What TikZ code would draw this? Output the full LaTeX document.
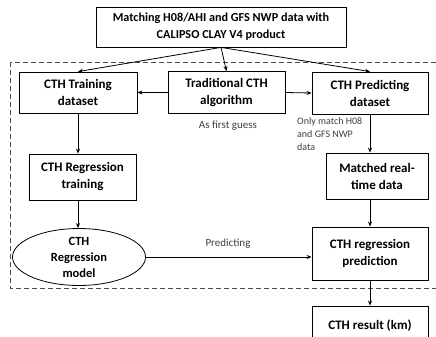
\documentclass[tikz,border=0pt]{standalone}
\usepackage{fontspec}
\setmainfont{Carlito}
\usetikzlibrary{shapes.geometric,arrows.meta}
\begin{document}
\begin{tikzpicture}[x=1pt,y=-1pt,
  box/.style={draw, line width=0.8pt, font=\bfseries\fontsize{13}{17}\selectfont, align=center, inner sep=1pt},
  lab/.style={font=\fontsize{11}{13}\selectfont, text=black!75, inner sep=0pt},
  arr/.style={-{Stealth[length=5pt,width=4pt]}, line width=0.8pt}]
\useasboundingbox (0,0) rectangle (436,337);
\clip (0,0) rectangle (436,337);
\fill[white] (0,0) rectangle (436,337);
% dashed frame
\draw[dashed, dash pattern=on 5pt off 3pt, line width=0.8pt, black!70] (10,62) rectangle (445,288);
% nodes
\node[box, minimum width=250pt, minimum height=40pt, font=\bfseries\fontsize{12.2}{17}\selectfont] (top) at (221,27) {Matching H08/AHI and GFS NWP data with\\CALIPSO CLAY V4 product};
\node[box, minimum width=118pt, minimum height=41pt] (train) at (78,92.5) {CTH Training\\dataset};
\node[box, minimum width=117pt, minimum height=42pt] (trad) at (226.5,92.5) {Traditional CTH\\algorithm};
\node[box, minimum width=116pt, minimum height=42pt] (pred) at (370,93) {CTH Predicting\\dataset};
\node[box, minimum width=107pt, minimum height=46pt] (regtrain) at (82.5,177) {CTH Regression\\training};
\node[box, minimum width=102pt, minimum height=46pt] (matched) at (377,176) {Matched real-\\time data};
\node[box, ellipse, minimum width=133pt, minimum height=56pt, inner sep=0pt, font=\bfseries\fontsize{12.5}{16}\selectfont] (model) at (79,257) {CTH\\Regression\\model};
\node[box, minimum width=116pt, minimum height=53pt] (predict) at (370,253.5) {CTH regression\\prediction};
\node[box, minimum width=116pt, minimum height=40pt] (result) at (370,326) {CTH result (km)};
% labels
\node[lab] (guess) at (228,126) {As first guess};
\node[lab, anchor=north west, align=left, font=\fontsize{10}{13}\selectfont] (only) at (297,117) {Only match H08\\and GFS NWP\\data};
\node[lab] (predlab) at (228,244) {Predicting};
% connectors
\draw[arr] (top.south) -- (train.north);
\draw[arr] (top.south) -- (trad.north);
\draw[arr] (top.south) -- (pred.north);
\draw[arr] (trad.west) -- (train.east);
\draw[arr] (trad.east) -- (pred.east -| pred.west);
\draw[arr] (train.south) -- (train.south |- regtrain.north);
\draw[arr] (train.south |- regtrain.south) -- (train.south |- model.north);
\draw[arr] (pred.south) -- (pred.south |- matched.north);
\draw[arr] (pred.south |- matched.south) -- (predict.north);
\draw[arr] (model.east) -- (model.east -| predict.west);
\draw[arr] (predict.south) -- (result.north);
\end{tikzpicture}
\end{document}
